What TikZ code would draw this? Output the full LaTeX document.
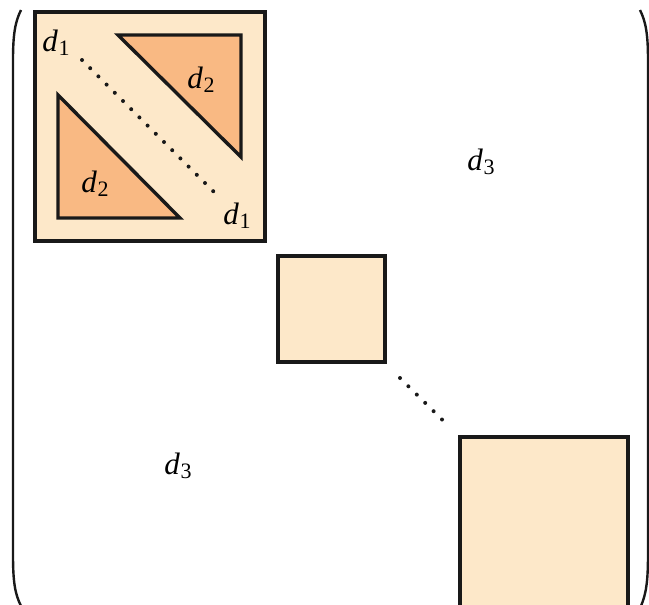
\documentclass[tikz,border=0pt]{standalone}
\usepackage{fontspec}
\setmainfont{Liberation Serif}
\definecolor{lightpeach}{HTML}{FDE8C9}
\definecolor{darkpeach}{HTML}{F9B983}
\tikzset{
  blockbox/.style={draw=black!90, line width=3.4pt, fill=lightpeach},
  tribox/.style={draw=black!90, line width=3.4pt, fill=darkpeach, line join=miter},
  paren/.style={line width=2.4pt, black!90},
  lab/.style={inner sep=0pt}
}
\newcommand{\dsub}[1]{{\fontsize{31}{33}\selectfont\itshape d\kern0.03em\raisebox{-0.12em}{\fontsize{22}{24}\selectfont\upshape #1}}}
\begin{document}
\begin{tikzpicture}[x=1pt,y=-1pt]
\useasboundingbox (0,0) rectangle (649,605);
\begin{scope}
\clip (0,0) rectangle (649,605);
% big top-left block
\draw[blockbox] (35,12) rectangle (265,241);
\draw[tribox] (118,35) -- (241,35) -- (241,157) -- cycle;
\draw[tribox] (58,95) -- (58,218) -- (180,218) -- cycle;
\foreach \i in {0,...,16} {\fill[black!90] (82+8.2*\i,60+8.2*\i) circle (2pt);}
% middle block
\draw[blockbox] (278,256) rectangle (385,362);
\foreach \i in {0,...,5} {\fill[black!90] (400+8.4*\i,378+8.3*\i) circle (2pt);}
% bottom block
\draw[blockbox] (460,437) rectangle (628,612);
% parentheses
\draw[paren] (21,10) .. controls (15,22) and (13,35) .. (13,60) -- (13,555) .. controls (13,582) and (15,594) .. (21,606);
\draw[paren] (640,10) .. controls (646,22) and (648,35) .. (648,60) -- (648,555) .. controls (648,582) and (646,594) .. (641,606);
\end{scope}
% labels
\node[lab] (d1a) at (56,43) {\dsub{1}};
\node[lab] (d1b) at (237,216) {\dsub{1}};
\node[lab] (d2a) at (201,80) {\dsub{2}};
\node[lab] (d2b) at (95,184) {\dsub{2}};
\node[lab] (d3a) at (481,162) {\dsub{3}};
\node[lab] (d3b) at (178,466) {\dsub{3}};
\end{tikzpicture}
\end{document}
